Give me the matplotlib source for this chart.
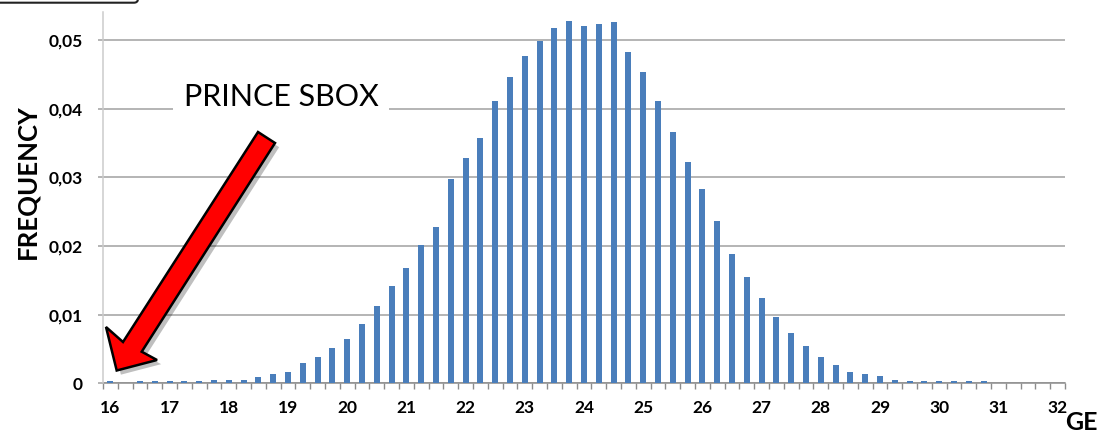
import numpy as np
import matplotlib
matplotlib.use("Agg")
import matplotlib.pyplot as plt
import matplotlib.patheffects as pe
import matplotlib.transforms as mtransforms
from matplotlib.patches import Polygon, FancyBboxPatch

# frequency of each GE value, one bar every 0.25 from 16 to 32
freq = [
    0.0003, 0.0000, 0.0003, 0.0003, 0.0003, 0.0003, 0.0003, 0.0005,
    0.0005, 0.0005, 0.0009, 0.0014, 0.0017, 0.0029, 0.0039, 0.0051,
    0.0065, 0.0086, 0.0113, 0.0142, 0.0168, 0.0201, 0.0228, 0.0297,
    0.0329, 0.0358, 0.0412, 0.0447, 0.0477, 0.0499, 0.0517, 0.0528,
    0.0520, 0.0523, 0.0526, 0.0482, 0.0454, 0.0411, 0.0366, 0.0322,
    0.0283, 0.0237, 0.0189, 0.0155, 0.0125, 0.0097, 0.0073, 0.0055,
    0.0038, 0.0026, 0.0016, 0.0014, 0.0010, 0.0005, 0.0004, 0.0003,
    0.0003, 0.0003, 0.0003, 0.0003, 0.0000, 0.0000, 0.0000, 0.0000,
    0.0000,
]
ge_labels = ["16", "17", "18", "19", "20", "21", "22", "23", "24",
             "25", "26", "27", "28", "29", "30", "31", "32"]
y_ticks = [0, 0.01, 0.02, 0.03, 0.04, 0.05]
y_labels = ["0", "0,01", "0,02", "0,03", "0,04", "0,05"]

FONT = "Lato"

W, H = 1104, 434
fig = plt.figure(figsize=(W / 100, H / 100), dpi=100)
# pixel coordinates, origin at the top-left corner
px = mtransforms.Affine2D().scale(1 / W, -1 / H).translate(0, 1) + fig.transFigure

ax = fig.add_axes([103 / W, (H - 383.3) / H, 962 / W, 371.3 / H])
x = np.arange(len(freq))
ax.bar(x, freq, width=0.4, color="#4a7ebb", zorder=3)

ax.set_xlim(-0.5, len(freq) - 0.5)
ax.set_ylim(0, 0.0541)

ax.set_xticks(x[::4])
ax.set_xticklabels(ge_labels, fontfamily=FONT, fontweight="bold", fontsize=12.5)
ax.set_xticks(np.arange(-0.5, len(freq), 1), minor=True)
ax.tick_params(axis="x", which="major", length=0, pad=12)
ax.tick_params(axis="x", which="minor", length=4, width=1, color="#8c8c8c")

ax.set_yticks(y_ticks)
ax.set_yticklabels(y_labels, fontfamily=FONT, fontweight="bold", fontsize=12.5)
ax.tick_params(axis="y", length=3.6, width=1.1, color="#a0a0a0", pad=11)

ax.yaxis.grid(True, color="#a0a0a0", linewidth=1.1)
ax.set_axisbelow(True)
for side in ("top", "right"):
    ax.spines[side].set_visible(False)
ax.spines["left"].set_color("#cccccc")
ax.spines["left"].set_linewidth(1.1)
ax.spines["bottom"].set_color("#8c8c8c")
ax.spines["bottom"].set_linewidth(1.1)
ax.spines["bottom"].set_zorder(2)

fig.text(27, 182, "FREQUENCY", transform=px, rotation=90, ha="center", va="center",
         fontfamily=FONT, fontweight="bold", fontsize=18.5)
fig.text(1065, 430, "GE", transform=px, ha="left", va="baseline",
         fontfamily=FONT, fontweight="bold", fontsize=18)

# callout label sitting on the 0,04 gridline
fig.text(281, 106.5, "PRINCE SBOX", transform=px, ha="center", va="baseline",
         fontfamily=FONT, fontsize=22,
         bbox=dict(facecolor="white", edgecolor="none", pad=8))

# red arrow pointing at the first bar
arrow_pts = [(258, 132), (275, 143), (141.7, 351.7), (157, 360),
             (116.7, 370.5), (106, 327), (123, 342)]
arrow = Polygon(arrow_pts, closed=True, transform=px, facecolor="#ff0000",
                edgecolor="black", linewidth=1.8, joinstyle="miter")
arrow.set_path_effects([pe.SimplePatchShadow(offset=(3, -3), shadow_rgbFace="black", alpha=0.25),
                        pe.Normal()])
fig.add_artist(arrow)

# edge of the box in the top-left corner
box = FancyBboxPatch((-20, -40), 158, 42.7, transform=px,
                     boxstyle="round,pad=0,rounding_size=4",
                     facecolor="white", edgecolor="#222222", linewidth=1.5)
fig.add_artist(box)

fig.savefig("out.png", dpi=100)
